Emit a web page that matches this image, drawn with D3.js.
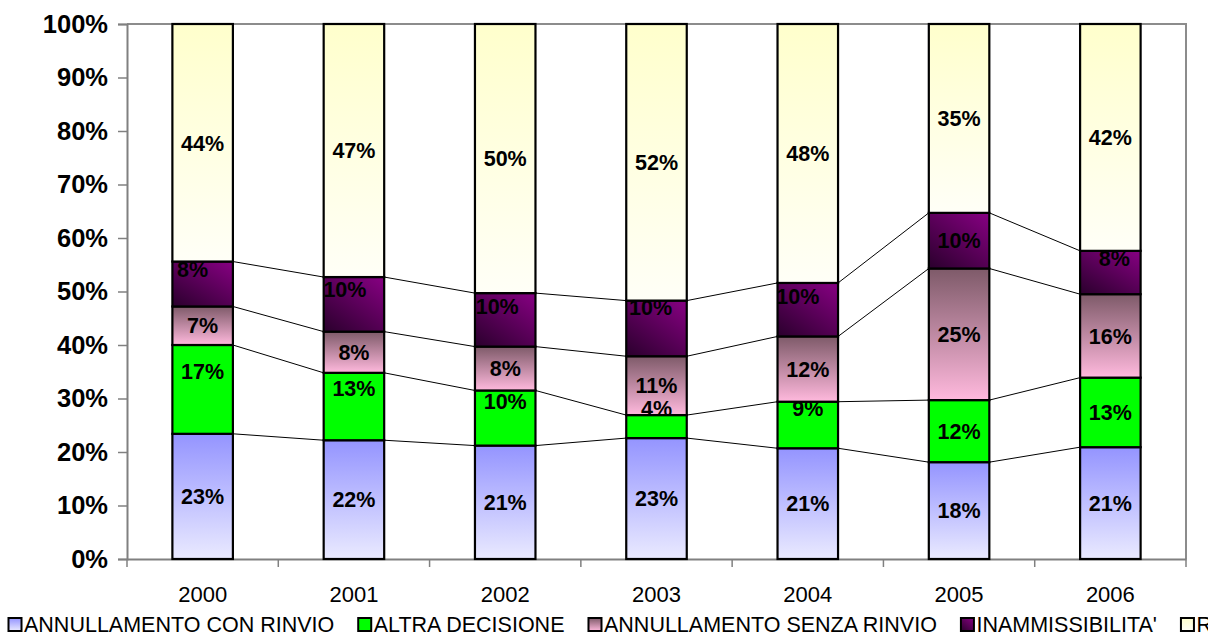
<!DOCTYPE html>
<html><head><meta charset="utf-8">
<script src="https://cdn.jsdelivr.net/npm/d3@7"></script>
<style>body{margin:0;background:#fff;overflow:hidden}svg{display:block}</style>
</head><body><svg id="c" width="1208" height="636"></svg>
<script>
// ---- data ----
const years = ["2000","2001","2002","2003","2004","2005","2006"];
const seriesNames = ["ANNULLAMENTO CON RINVIO","ALTRA DECISIONE","ANNULLAMENTO SENZA RINVIO","INAMMISSIBILITA'","RIGETTO"];
const annullamentoConRinvio   = [23.4, 22.2, 21.2, 22.6, 20.7, 18.1, 20.9];
const altraDecisione          = [16.6, 12.6, 10.3,  4.3,  8.7, 11.6, 13.0];
const annullamentoSenzaRinvio = [ 7.2,  7.7,  8.2, 11.0, 12.2, 24.6, 15.6];
const inammissibilita         = [ 8.4, 10.2, 10.0, 10.4, 10.0, 10.4,  8.1];
const rigetto                 = [44.4, 47.3, 50.3, 51.7, 48.4, 35.3, 42.4];
const yTicks = [0,10,20,30,40,50,60,70,80,90,100];

// ---- layout / style ----
const FONT = "Arial, 'Liberation Sans', sans-serif";
const M = {left:127, right:1186, top:24, bottom:559};
// label nudges (Excel placed some labels off-centre)
const labelNudge = {
  1: {dx:[0,0,0,0,0,0,0], dy:[-18,-18,-17,-18,-17,0,0]},
  3: {dx:[-10,-9,-8,-6,-10,0,4], dy:[-15,-15,-14,-21,-13,0,-14]}
};

const svg = d3.select("#c");
const defs = svg.append("defs");
function grad(id, stops, x1=0,y1=0,x2=0,y2=1){
  const g = defs.append("linearGradient").attr("id",id)
    .attr("x1",x1).attr("y1",y1).attr("x2",x2).attr("y2",y2);
  stops.forEach(([o,c])=>g.append("stop").attr("offset",o).attr("stop-color",c));
}
grad("g0",[[0,"#9494FF"],[1,"#EAEAFF"]]);
grad("g1",[[0,"#00FF00"],[1,"#00FF00"]]);
grad("g2",[[0,"#7E5A69"],[1,"#FFB9DD"]]);
grad("g3",[[0,"#83007F"],[1,"#2E0030"]],0.9,0,0.1,1);
grad("g4",[[0,"#FFFFCC"],[1,"#FFFFF7"]]);
const fills = ["url(#g0)","url(#g1)","url(#g2)","url(#g3)","url(#g4)"];

const table = years.map((y,i)=>({year:y, s0:annullamentoConRinvio[i], s1:altraDecisione[i], s2:annullamentoSenzaRinvio[i], s3:inammissibilita[i], s4:rigetto[i]}));
const keys = ["s0","s1","s2","s3","s4"];
const stacked = d3.stack().keys(keys)(table);

const x = d3.scaleBand().domain(years).range([M.left, M.right]).padding(0);
const y = d3.scaleLinear().domain([0,100]).range([M.bottom, M.top]);
const bw = x.bandwidth()*0.4;
const cx = d => x(d)+x.bandwidth()/2;

// plot area border (top/right)
svg.append("path").attr("d",`M${M.left},${M.top}H${M.right}V${M.bottom}`)
  .attr("fill","none").attr("stroke","#8c8c8c").attr("stroke-width",2);

// y axis
const yAxis = svg.append("g").attr("transform",`translate(${M.left},0)`)
  .call(d3.axisLeft(y).tickValues(yTicks).tickSize(9).tickPadding(10).tickFormat(d=>d+"%"));
yAxis.select(".domain").attr("stroke","#808080").attr("stroke-width",2);
yAxis.selectAll(".tick line").attr("stroke","#808080").attr("stroke-width",1.5);
yAxis.selectAll("text").attr("font-family",FONT).attr("font-size",25.5).attr("font-weight","bold").attr("fill","#000");

// x axis
const xAxis = svg.append("g").attr("transform",`translate(0,${M.bottom})`)
  .call(d3.axisBottom(x).tickSize(0).tickPadding(27));
xAxis.select(".domain").attr("stroke","#808080").attr("stroke-width",2);
xAxis.selectAll("text").attr("font-family",FONT).attr("font-size",22).attr("fill","#000");
// category separator ticks
xAxis.selectAll("line.sep").data(years.concat(["_end"])).enter().append("line")
  .attr("class","sep")
  .attr("x1",(d,i)=>M.left+i*x.step()).attr("x2",(d,i)=>M.left+i*x.step())
  .attr("y1",0).attr("y2",8).attr("stroke","#808080").attr("stroke-width",1.5);

// series lines
const lines = svg.append("g");
stacked.slice(0,4).forEach(layer=>{
  for(let j=0;j<layer.length-1;j++){
    const a=layer[j], b=layer[j+1];
    lines.append("line")
      .attr("x1",cx(a.data.year)+bw/2).attr("y1",y(a[1]))
      .attr("x2",cx(b.data.year)-bw/2).attr("y2",y(b[1]))
      .attr("stroke","#000").attr("stroke-width",1);
  }
});

const fmt = v => Math.round(v)+"%";
function drawBars(layer, si){
  svg.append("g").selectAll("rect").data(layer).enter().append("rect")
    .attr("x",d=>cx(d.data.year)-bw/2).attr("width",bw)
    .attr("y",d=>y(d[1])).attr("height",d=>y(d[0])-y(d[1]))
    .attr("fill",fills[si]).attr("stroke","#000").attr("stroke-width",2.2);
}
function drawLabels(layer, si){
  const n = labelNudge[si];
  svg.append("g").selectAll("text").data(layer).enter().append("text")
    .attr("x",(d,j)=>cx(d.data.year)+(n?n.dx[j]:0))
    .attr("y",(d,j)=>(y(d[0])+y(d[1]))/2+(n?n.dy[j]:0))
    .attr("dy","0.36em").attr("text-anchor","middle")
    .attr("font-family",FONT).attr("font-size",21.5).attr("font-weight","bold").attr("fill","#000")
    .text(d=>fmt(d[1]-d[0]));
}
for(let i=0;i<4;i++) drawBars(stacked[i],i);
for(let i=0;i<4;i++) drawLabels(stacked[i],i);
drawBars(stacked[4],4);
drawLabels(stacked[4],4);

// legend (items laid out one after another)
const lg = svg.append("g");
let lx = 8;
seriesNames.forEach((name,i)=>{
  lg.append("rect").attr("x",lx+0.5).attr("y",618).attr("width",13).attr("height",13)
    .attr("fill",fills[i]).attr("stroke","#000").attr("stroke-width",2);
  const t = lg.append("text").attr("x",lx+16).attr("y",632)
    .attr("font-family",FONT).attr("font-size",21.5).attr("fill","#000").text(name);
  lx += 16 + t.node().getComputedTextLength() + 23.5;
});
</script></body></html>
